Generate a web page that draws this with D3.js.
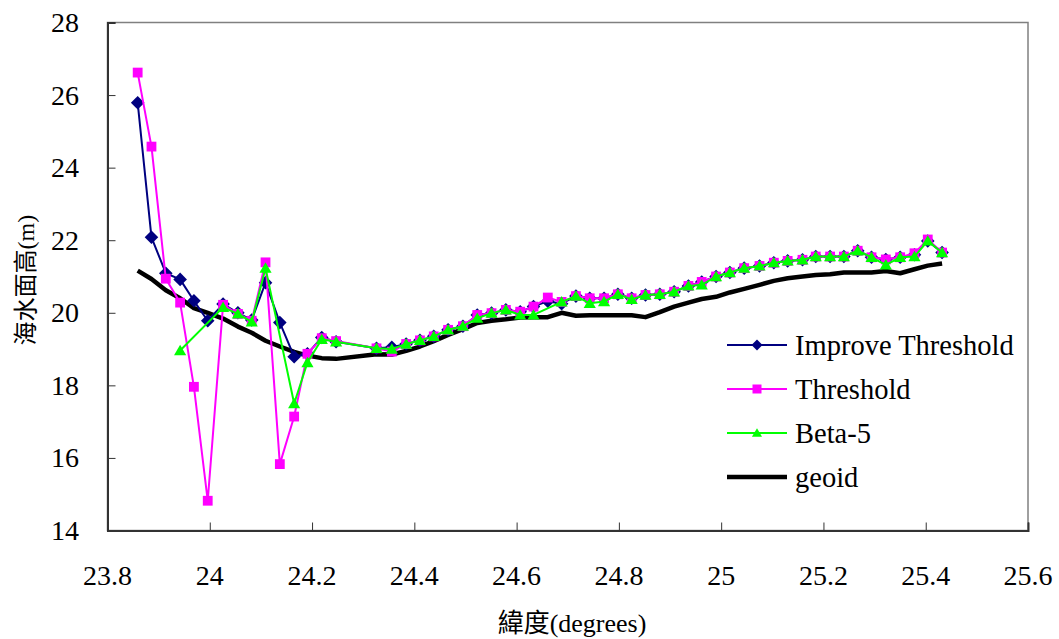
<!DOCTYPE html>
<html>
<head>
<meta charset="utf-8">
<script src="https://cdn.jsdelivr.net/npm/d3@7"></script>
<style>
  body { margin: 0; background: #fff; }
</style>
</head>
<body>
<svg id="chart" width="1059" height="639"></svg>
<script>
const width = 1059
const height = 639
const margin = { top: 22.5, right: 31, bottom: 108.5, left: 107.5 }
const fontFamily = '"Liberation Serif", "Noto Sans CJK TC", serif'

// latitude of each sample (degrees)
const lat = [23.859, 23.886, 23.914, 23.942, 23.969, 23.996, 24.026, 24.055, 24.082, 24.109,
  24.137, 24.165, 24.191, 24.219, 24.247, 24.326, 24.356, 24.384, 24.411, 24.438,
  24.466, 24.495, 24.523, 24.551, 24.579, 24.607, 24.633, 24.661, 24.688, 24.716,
  24.743, 24.771, 24.798, 24.825, 24.852, 24.880, 24.908, 24.936, 24.962, 24.990,
  25.017, 25.045, 25.075, 25.103, 25.130, 25.159, 25.185, 25.213, 25.240, 25.267,
  25.294, 25.322, 25.350, 25.378, 25.404, 25.432]

const improveThreshold = [25.79, 22.08, 21.09, 20.92, 20.33, 19.78, 20.24, 20.0, 19.8, 20.83,
  19.73, 18.79, 18.87, 19.32, 19.2, 19.02, 19.05, 19.14, 19.24, 19.35,
  19.53, 19.63, 19.94, 19.99, 20.08, 20.03, 20.17, 20.32, 20.25, 20.46,
  20.4, 20.4, 20.51, 20.4, 20.49, 20.51, 20.58, 20.74, 20.85, 21.0,
  21.11, 21.23, 21.29, 21.38, 21.43, 21.46, 21.55, 21.55, 21.55, 21.71,
  21.53, 21.47, 21.53, 21.6, 21.98, 21.66]

const threshold = [26.62, 24.58, 20.94, 20.28, 17.96, 14.82, 20.22, 19.97, 19.78, 21.39,
  15.83, 17.14, 18.87, 19.3, 19.22, 19.02, 18.93, 19.14, 19.24, 19.35,
  19.53, 19.63, 19.94, 19.99, 20.08, 20.03, 20.17, 20.42, 20.3, 20.46,
  20.4, 20.4, 20.51, 20.4, 20.49, 20.51, 20.58, 20.74, 20.85, 21.0,
  21.11, 21.23, 21.29, 21.38, 21.43, 21.46, 21.55, 21.55, 21.55, 21.71,
  21.53, 21.47, 21.53, 21.64, 22.02, 21.66]

const beta5 = [null, null, null, 18.96, null, null, 20.15, 19.97, 19.75, 21.23,
  null, 17.5, 18.63, 19.27, 19.2, 19.02, 19.0, 19.14, 19.24, 19.35,
  19.53, 19.63, 19.85, 19.99, 20.08, 19.94, 19.94, null, 20.3, 20.46,
  20.26, 20.31, 20.51, 20.37, 20.49, 20.51, 20.58, 20.74, 20.77, 21.0,
  21.11, 21.23, 21.29, 21.38, 21.43, 21.46, 21.55, 21.55, 21.55, 21.71,
  21.53, 21.32, 21.53, 21.55, 21.98, 21.66]

const geoid = [21.16, 20.93, 20.62, 20.4, 20.13, 20.0, 19.84, 19.62, 19.45, 19.23,
  19.07, 18.92, 18.82, 18.75, 18.73, 18.86, 18.85, 18.95, 19.07, 19.22,
  19.39, 19.55, 19.72, 19.78, 19.82, 19.87, 19.88, 19.88, 20.0, 19.92,
  19.93, 19.93, 19.93, 19.93, 19.88, 20.02, 20.17, 20.28, 20.38, 20.44,
  20.56, 20.66, 20.77, 20.88, 20.95, 21.0, 21.04, 21.06, 21.11, 21.11,
  21.11, 21.15, 21.09, 21.2, 21.3, 21.36]

const xTicks = [23.8, 24, 24.2, 24.4, 24.6, 24.8, 25, 25.2, 25.4, 25.6]
const yTicks = [14, 16, 18, 20, 22, 24, 26, 28]

const seriesNames = ['Improve Threshold', 'Threshold', 'Beta-5', 'geoid']

const svg = d3.select('#chart')
svg.append('rect').attr('width', width).attr('height', height).attr('fill', '#fff')

const xScale = d3.scaleLinear().domain([23.8, 25.6]).range([margin.left, width - margin.right])
const yScale = d3.scaleLinear().domain([14, 28]).range([height - margin.bottom, margin.top])

/* plot area border */
svg.append('rect')
  .attr('x', xScale(23.8)).attr('y', yScale(28))
  .attr('width', xScale(25.6) - xScale(23.8))
  .attr('height', yScale(14) - yScale(28))
  .attr('fill', 'none').attr('stroke', '#808080').attr('stroke-width', 1.5)

/* axes, ticks pointing inward */
const yAxis = svg.append('g')
  .attr('transform', `translate(${xScale(23.8)}, 0)`)
  .call(d3.axisRight(yScale).tickValues(yTicks).tickSize(8).tickFormat(''))
yAxis.select('.domain').attr('stroke', '#333').attr('stroke-width', 2)
yAxis.selectAll('line').attr('stroke', '#333').attr('stroke-width', 1)

const xAxis = svg.append('g')
  .attr('transform', `translate(0, ${yScale(14)})`)
  .call(d3.axisTop(xScale).tickValues(xTicks).tickSize(8).tickFormat(''))
xAxis.select('.domain').attr('stroke', '#333').attr('stroke-width', 2)
xAxis.selectAll('line').attr('stroke', '#333').attr('stroke-width', 1)

/* tick labels */
svg.append('g').selectAll('text')
  .data(yTicks).join('text')
  .attr('x', 79).attr('y', (d) => yScale(d))
  .attr('text-anchor', 'end').attr('dominant-baseline', 'central')
  .style('font-family', fontFamily).style('font-size', '28px')
  .text((d) => d)

svg.append('g').selectAll('text')
  .data(xTicks).join('text')
  .attr('x', (d) => xScale(d)).attr('y', 575)
  .attr('text-anchor', 'middle').attr('dominant-baseline', 'central')
  .style('font-family', fontFamily).style('font-size', '28px')
  .text((d) => d)

/* axis titles */
svg.append('text')
  .attr('x', 572).attr('y', 623)
  .attr('text-anchor', 'middle').attr('dominant-baseline', 'central')
  .style('font-family', fontFamily).style('font-size', '26px')
  .text('緯度(degrees)')

svg.append('text')
  .attr('transform', `translate(26, ${yScale(20.9)}) rotate(-90)`)
  .attr('text-anchor', 'middle').attr('dominant-baseline', 'central')
  .style('font-family', fontFamily).style('font-size', '24px')
  .text('海水面高(m)')

/* series */
const pts = (vals) => lat.map((x, i) => [x, vals[i]]).filter((d) => d[1] != null)
const line = d3.line().x((d) => xScale(d[0])).y((d) => yScale(d[1]))

const diamondPath = (r) => `M0,${-r}L${r},0L0,${r}L${-r},0Z`
const squarePath = (r) => `M${-r},${-r}H${r}V${r}H${-r}Z`
const trianglePath = (r) => `M0,${-r}L${r * 1.05},${r * 0.8}H${-r * 1.05}Z`

const series = [
  { name: seriesNames[3], vals: geoid, color: '#000', width: 4.5, symbol: null },
  { name: seriesNames[0], vals: improveThreshold, color: '#000080', width: 2, symbol: diamondPath(6.8) },
  { name: seriesNames[1], vals: threshold, color: '#ff00ff', width: 2, symbol: squarePath(4.9) },
  { name: seriesNames[2], vals: beta5, color: '#00ff00', width: 2, symbol: trianglePath(5.8) },
]

series.forEach((s) => {
  const data = pts(s.vals)
  svg.append('path')
    .datum(data)
    .attr('fill', 'none')
    .attr('stroke', s.color)
    .attr('stroke-width', s.width)
    .attr('stroke-linejoin', 'round')
    .attr('d', line)
  if (s.symbol) {
    svg.append('g').selectAll('path')
      .data(data).join('path')
      .attr('transform', (d) => `translate(${xScale(d[0])}, ${yScale(d[1])})`)
      .attr('d', s.symbol)
      .attr('fill', s.color)
  }
})

/* legend */
const legendItems = [
  { name: seriesNames[0], color: '#000080', width: 2, symbol: diamondPath(5.5) },
  { name: seriesNames[1], color: '#ff00ff', width: 2, symbol: squarePath(4.5) },
  { name: seriesNames[2], color: '#00ff00', width: 2, symbol: trianglePath(4.8) },
  { name: seriesNames[3], color: '#000', width: 4.5, symbol: null },
]
const legendY = d3.scalePoint().domain(seriesNames).range([345, 477])

const legend = svg.append('g').selectAll('g')
  .data(legendItems).join('g')
  .attr('transform', (d) => `translate(727, ${legendY(d.name)})`)

legend.append('line')
  .attr('x1', 0).attr('x2', 60)
  .attr('stroke', (d) => d.color)
  .attr('stroke-width', (d) => d.width)
legend.filter((d) => d.symbol)
  .append('path')
  .attr('transform', 'translate(30, 0)')
  .attr('d', (d) => d.symbol)
  .attr('fill', (d) => d.color)
legend.append('text')
  .attr('x', 68).attr('dominant-baseline', 'central')
  .style('font-family', fontFamily).style('font-size', '28.5px')
  .text((d) => d.name)
</script>
</body>
</html>
